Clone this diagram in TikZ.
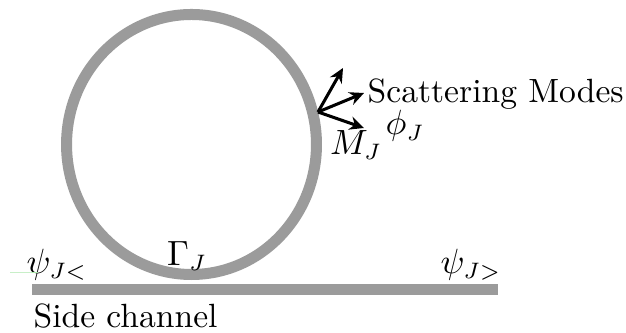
\documentclass[tikz,border=0pt]{standalone}
\usetikzlibrary{arrows.meta,shapes.geometric}
\definecolor{ringgray}{RGB}{155,155,155}
\definecolor{faintgreen}{RGB}{170,230,170}
\begin{document}
\begin{tikzpicture}[x=0.3125pt,y=-0.3125pt,
  lbl/.style={inner sep=0pt, font=\fontsize{10.5pt}{12pt}\selectfont},
  vec/.style={line width=0.95pt, -{Stealth[length=4.5pt,width=4.2pt]}}]
\useasboundingbox (0,0) rectangle (626,333);
\node[ellipse, draw=ringgray, line width=3.44pt, minimum width=78.1pt, minimum height=81.25pt, inner sep=0pt] (ring) at (191.5,144.5) {};
\node[fill=ringgray, minimum width=145.6pt, minimum height=3.6pt, inner sep=0pt] (channel) at (265,289.5) {};
\coordinate (o) at (318,112);
\coordinate (t1) at (343,68);
\coordinate (t2) at (364,93);
\coordinate (t3) at (364,128);
\draw[vec] (o) -- (t1);
\draw[vec] (o) -- (t2);
\draw[vec] (o) -- (t3);
\node[lbl, anchor=base west] (scat) at (367,103) {Scattering Modes};
\node[lbl] (phi) at (405,126) {$\phi_J$};
\node[lbl] (mj) at (356,145) {$M_J$};
\node[lbl] (gam) at (187,256) {$\Gamma_J$};
\node[lbl] (psil) at (57,265) {$\psi_{J<}$};
\node[lbl] (psir) at (471,265) {$\psi_{J>}$};
\node[lbl, anchor=base west] (side) at (33,328) {Side channel};
\coordinate (g1) at (10,272);
\draw[faintgreen, line width=0.3pt] (g1) -- (psil.west |- g1) -- ++(12,0);
\end{tikzpicture}
\end{document}
